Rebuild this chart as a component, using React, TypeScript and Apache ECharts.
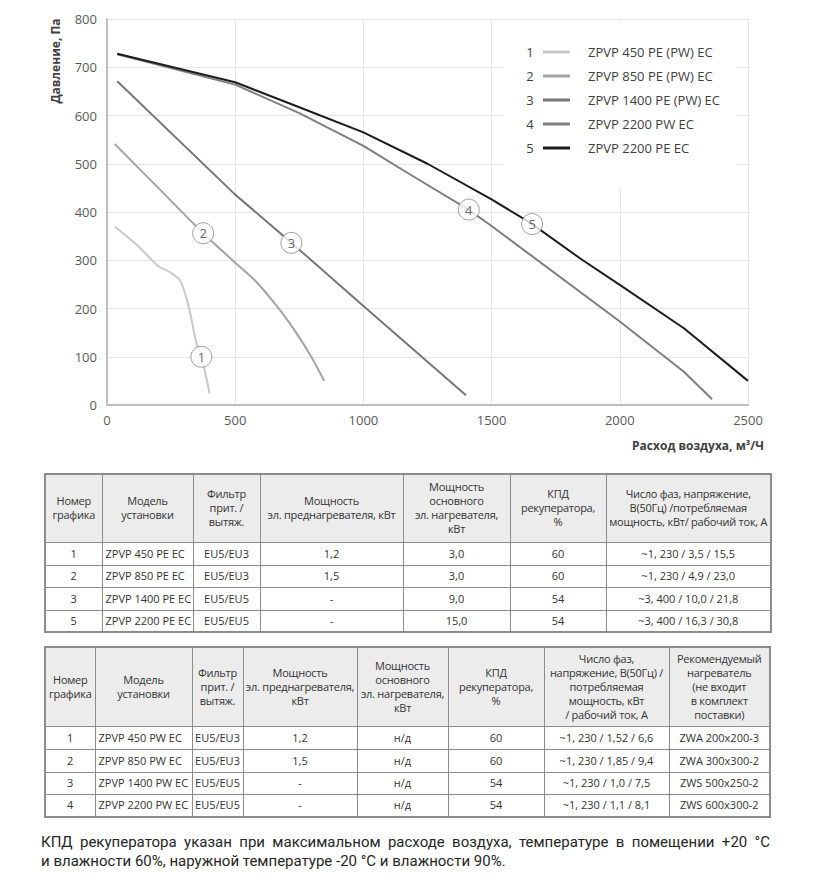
import React, { useEffect, useRef } from "react";
import * as echarts from "echarts";

// ---- chart data ----
const seriesNumbers = ["1", "2", "3", "4", "5"];
const seriesNames = [
  "ZPVP 450 PE (PW) EC",
  "ZPVP 850 PE (PW) EC",
  "ZPVP 1400 PE (PW) EC",
  "ZPVP 2200 PW EC",
  "ZPVP 2200 PE EC",
];
const seriesColors = ["#c9c9c9", "#a3a3a3", "#777777", "#7e7e7e", "#1c1c1c"];
const seriesSmooth = [0.3, 0.3, false, false, false];

const curve1 = [[30, 370], [120, 330], [200, 288], [250, 274], [284, 259], [305, 230], [322, 197], [349, 128], [368, 100], [388, 55], [400, 24]];
const curve2 = [[30, 541], [200, 450], [375, 356], [500, 295], [583, 255], [674, 197], [739, 149], [800, 97], [847, 50]];
const curve3 = [[40, 671], [500, 436], [720, 336], [1000, 205], [1400, 20]];
const curve4 = [[40, 727], [500, 664], [750, 605], [1000, 537], [1200, 472], [1410, 405], [1500, 371], [2000, 173], [2250, 69], [2360, 12]];
const curve5 = [[40, 728], [500, 669], [750, 617], [1000, 565], [1250, 500], [1500, 426], [1650, 378], [1850, 302], [2000, 249], [2250, 159], [2500, 50]];
const curves = [curve1, curve2, curve3, curve4, curve5];

const markerPoints = [
  [368, 100, "1"],
  [375, 356, "2"],
  [719, 336, "3"],
  [1411, 405, "4"],
  [1658, 375, "5"],
];

const xMin = 0, xMax = 2500, xStep = 500;
const yMin = 0, yMax = 800, yStep = 100;
const yAxisTitle = "Давление, Па";
const xAxisTitle = "Расход воздуха, м³/Ч";

// ---- table data ----
const table1Header = [
  ["Номер", "графика"],
  ["Модель", "установки"],
  ["Фильтр", "прит. /", "вытяж."],
  ["Мощность", "эл. преднагревателя, кВт"],
  ["Мощность", "основного", "эл. нагревателя,", "кВт"],
  ["КПД", "рекуператора,", "%"],
  ["Число фаз, напряжение,", "В(50Гц) /потребляемая", "мощность, кВт/ рабочий ток, А"],
];
const table1Rows = [
  ["1", "ZPVP 450 PE EC", "EU5/EU3", "1,2", "3,0", "60", "~1, 230 / 3,5 / 15,5"],
  ["2", "ZPVP 850 PE EC", "EU5/EU3", "1,5", "3,0", "60", "~1, 230 / 4,9 / 23,0"],
  ["3", "ZPVP 1400 PE EC", "EU5/EU5", "-", "9,0", "54", "~3, 400 / 10,0 / 21,8"],
  ["5", "ZPVP 2200 PE EC", "EU5/EU5", "-", "15,0", "54", "~3, 400 / 16,3 / 30,8"],
];
const table1Cols = [57, 91, 67, 143, 107, 96, 165];

const table2Header = [
  ["Номер", "графика"],
  ["Модель", "установки"],
  ["Фильтр", "прит. /", "вытяж."],
  ["Мощность", "эл. преднагревателя,", "кВт"],
  ["Мощность", "основного", "эл. нагревателя,", "кВт"],
  ["КПД", "рекуператора,", "%"],
  ["Число фаз,", "напряжение, В(50Гц) /", "потребляемая", "мощность, кВт", "/ рабочий ток, А"],
  ["Рекомендуемый", "нагреватель", "(не входит", "в комплект", "поставки)"],
];
const table2Rows = [
  ["1", "ZPVP 450 PW EC", "EU5/EU3", "1,2", "н/д", "60", "~1, 230 / 1,52 / 6,6", "ZWA 200x200-3"],
  ["2", "ZPVP 850 PW EC", "EU5/EU3", "1,5", "н/д", "60", "~1, 230 / 1,85 / 9,4", "ZWA 300x300-2"],
  ["3", "ZPVP 1400 PW EC", "EU5/EU5", "-", "н/д", "54", "~1, 230 / 1,0 / 7,5", "ZWS 500x250-2"],
  ["4", "ZPVP 2200 PW EC", "EU5/EU5", "-", "н/д", "54", "~1, 230 / 1,1 / 8,1", "ZWS 600x300-2"],
];
const table2Cols = [50, 97, 51, 114, 91, 96, 125, 101];

const footnoteLine1 = "КПД рекуператора указан при максимальном расходе воздуха, температуре в помещении +20  °C";
const footnoteLine2 = "и влажности 60%, наружной температуре -20 °C и влажности 90%.";

const FONT = "'Open Sans', 'DejaVu Sans', sans-serif";

function Chart() {
  const ref = useRef<HTMLDivElement>(null);
  useEffect(() => {
    if (!ref.current) return;
    const chart = echarts.init(ref.current, undefined, { renderer: "svg" });
    const legendTop = 22;
    const legendPadTop = 22;
    const rowH = 16;
    const rowGap = 8;
    const lineSeries = curves.map((c, i) => ({
      name: seriesNames[i],
      type: "line",
      data: c,
      showSymbol: false,
      symbol: "none",
      smooth: seriesSmooth[i],
      lineStyle: { color: seriesColors[i], width: 2 },
      itemStyle: { color: seriesColors[i] },
      z: 2,
    }));
    const option: any = {
      animation: false,
      backgroundColor: "#ffffff",
      grid: { left: 107, right: 67, top: 19, bottom: 55, containLabel: false },
      xAxis: {
        type: "value",
        min: xMin,
        max: xMax,
        interval: xStep,
        axisLine: { show: true, lineStyle: { color: "#bfbfbf", width: 2 } },
        axisTick: { show: false },
        axisLabel: { color: "#595959", fontFamily: FONT, fontSize: 13, margin: 8, formatter: (v: number) => String(v) },
        splitLine: { show: true, lineStyle: { color: "#e6e6e6", width: 1 } },
      },
      yAxis: {
        type: "value",
        min: yMin,
        max: yMax,
        interval: yStep,
        axisLine: { show: true, lineStyle: { color: "#bfbfbf", width: 2 } },
        axisTick: { show: false },
        axisLabel: { color: "#595959", fontFamily: FONT, fontSize: 13, margin: 10, formatter: (v: number) => String(v) },
        splitLine: { show: true, lineStyle: { color: "#e6e6e6", width: 1 } },
      },
      legend: {
        data: seriesNames,
        orient: "vertical",
        left: 503,
        top: legendTop,
        padding: [legendPadTop, 17, 33, 40],
        backgroundColor: "#ffffff",
        icon: "rect",
        itemWidth: 27,
        itemHeight: 3,
        itemGap: rowGap,
        selectedMode: false,
        textStyle: {
          fontFamily: FONT,
          fontSize: 13,
          color: "#404040",
          lineHeight: rowH,
          padding: [0, 0, 0, 13],
        },
      },
      graphic: [
        ...seriesNumbers.map((n, i) => ({
          type: "text",
          x: 530,
          y: legendTop + legendPadTop + rowH / 2 + i * (rowH + rowGap),
          z: 100,
          style: {
            text: n,
            fill: "#404040",
            font: `13px ${FONT}`,
            textAlign: "center",
            textVerticalAlign: "middle",
          },
        })),
        {
          type: "text",
          x: 55,
          y: 61,
          rotation: Math.PI / 2,
          style: {
            text: yAxisTitle,
            fill: "#404040",
            font: `bold 12px ${FONT}`,
            textAlign: "center",
            textVerticalAlign: "middle",
          },
        },
        {
          type: "text",
          x: 764,
          y: 445,
          style: {
            text: xAxisTitle,
            fill: "#404040",
            font: `bold 12px ${FONT}`,
            textAlign: "right",
            textVerticalAlign: "middle",
          },
        },
      ],
      series: [
        ...lineSeries,
        {
          name: "markers",
          type: "scatter",
          data: markerPoints.map((p) => ({ value: [p[0], p[1]], name: p[2] })),
          symbol: "circle",
          symbolSize: 21,
          itemStyle: { color: "#ffffff", borderColor: "#8a8a8a", borderWidth: 1 },
          label: {
            show: true,
            position: "inside",
            formatter: "{b}",
            color: "#404040",
            fontFamily: FONT,
            fontSize: 13,
          },
          z: 5,
        },
      ],
    };
    chart.setOption(option);
    return () => chart.dispose();
  }, []);
  return <div ref={ref} style={{ position: "absolute", left: 0, top: 0, width: 815, height: 460 }} />;
}

const border = "1px solid #8c8c8c";
const cellBase: React.CSSProperties = {
  border,
  padding: 0,
  textAlign: "center",
  verticalAlign: "middle",
  fontFamily: FONT,
  fontSize: 11,
  lineHeight: "14px",
  color: "#333333",
  whiteSpace: "nowrap",
  overflow: "hidden",
};

function DataTable(props: { left: number; top: number; cols: number[]; header: string[][]; rows: string[][]; headerH: number; rowH: number[] }) {
  const { left, top, cols, header, rows, headerH, rowH } = props;
  const total = cols.reduce((a, b) => a + b, 0);
  return (
    <table
      style={{
        position: "absolute",
        left,
        top,
        width: total,
        borderCollapse: "collapse",
        tableLayout: "fixed",
        border: "2px solid #8c8c8c",
      }}
    >
      <colgroup>
        {cols.map((w, i) => (
          <col key={i} style={{ width: w }} />
        ))}
      </colgroup>
      <tbody>
        <tr style={{ height: headerH }}>
          {header.map((lines, i) => (
            <td key={i} style={{ ...cellBase, background: "#ececec", letterSpacing: "-0.25px" }}>
              {lines.map((l, j) => (
                <div key={j}>{l}</div>
              ))}
            </td>
          ))}
        </tr>
        {rows.map((r, ri) => (
          <tr key={ri} style={{ height: rowH[ri] }}>
            {r.map((c, ci) => (
              <td key={ci} style={{ ...cellBase, textAlign: ci === 1 ? "left" : "center", paddingLeft: ci === 1 ? 3 : 0 }}>
                {c}
              </td>
            ))}
          </tr>
        ))}
      </tbody>
    </table>
  );
}

export default function App() {
  useEffect(() => {
    document.body.style.margin = "0";
  }, []);
  return (
    <div style={{ position: "relative", width: 815, height: 884, background: "#ffffff", overflow: "hidden" }}>
      <Chart />
      <DataTable left={44} top={473} cols={table1Cols} header={table1Header} rows={table1Rows} headerH={68} rowH={[23, 22, 23, 22]} />
      <DataTable left={44} top={646} cols={table2Cols} header={table2Header} rows={table2Rows} headerH={79} rowH={[23, 23, 22, 23]} />
      <div
        style={{
          position: "absolute",
          left: 41,
          top: 833,
          width: 729,
          fontFamily: "Roboto, 'Liberation Sans', sans-serif",
          fontSize: 15,
          lineHeight: "19px",
          color: "#262626",
          textAlign: "justify",
          textAlignLast: "justify",
          whiteSpace: "nowrap",
        }}
      >
        {footnoteLine1}
      </div>
      <div
        style={{
          position: "absolute",
          left: 41,
          top: 852,
          fontFamily: "Roboto, 'Liberation Sans', sans-serif",
          fontSize: 15,
          lineHeight: "19px",
          color: "#262626",
          whiteSpace: "nowrap",
        }}
      >
        {footnoteLine2}
      </div>
    </div>
  );
}
